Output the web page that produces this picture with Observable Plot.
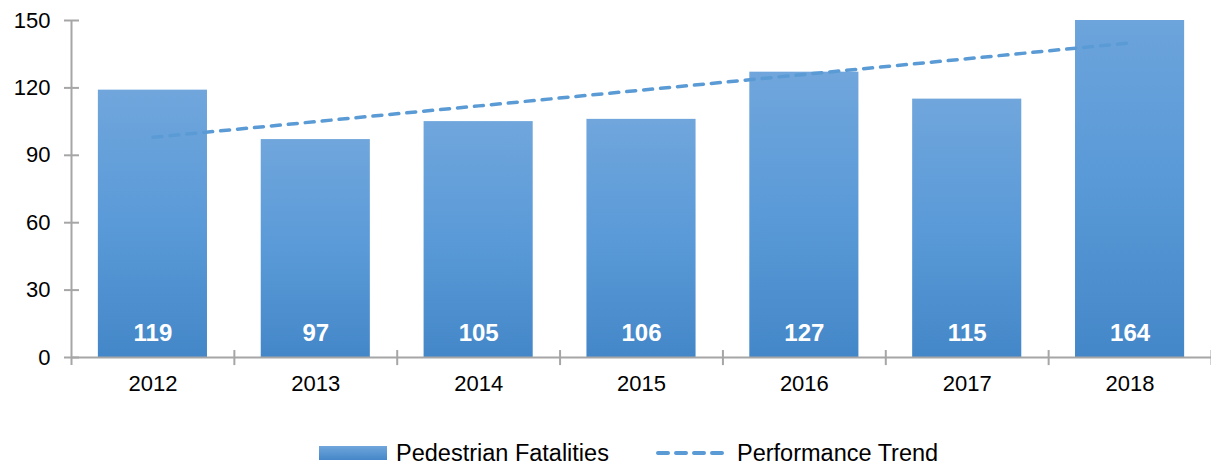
<!DOCTYPE html>
<html>
<head>
<meta charset="utf-8">
<script src="https://cdn.jsdelivr.net/npm/d3@7"></script>
<script src="https://cdn.jsdelivr.net/npm/@observablehq/plot@0.6"></script>
<style>
  body { margin: 0; background: #fff; font-family: "Liberation Sans", Arial, sans-serif; }
  #chart { width: 1211px; height: 420px; }
  #legend { position: relative; width: 1211px; height: 48px; font-size: 23.5px; color: #000; }
  #legend .sw { position: absolute; left: 319px; top: 26px; width: 68px; height: 14px;
    background: linear-gradient(to bottom, #70a6dc, #4487c8); }
  #legend span { position: absolute; top: 20px; line-height: 26px; white-space: nowrap; }
  #legend svg { position: absolute; left: 654px; top: 27px; }
</style>
</head>
<body>
<div id="chart"></div>
<div id="legend">
  <div class="sw"></div>
  <span style="left:396px">Pedestrian Fatalities</span>
  <svg width="80" height="12"><line x1="4" y1="6" x2="74" y2="6" stroke="#5b9bd5" stroke-width="4" stroke-linecap="round" stroke-dasharray="10,8"/></svg>
  <span style="left:737px">Performance Trend</span>
</div>
<script>
const years = ["2012", "2013", "2014", "2015", "2016", "2017", "2018"];
const fatalities = [119, 97, 105, 106, 127, 115, 164];
const trend = [98, 105, 112, 119, 126, 133, 140];
const yTicks = [0, 30, 60, 90, 120, 150];

const data = years.map((year, i) => ({year, value: fatalities[i], trend: trend[i]}));

const W = 1211, H = 420, ml = 71, mr = 0, mt = 20, mb = 63;
const step = (W - ml - mr) / years.length;
const axisColor = "#a6a6a6";

const plot = Plot.plot({
  width: W,
  height: H,
  marginLeft: ml,
  marginRight: mr,
  marginTop: mt,
  marginBottom: mb,
  style: {fontFamily: "'Liberation Sans', Arial, sans-serif", fontSize: "22px", color: "#000", background: "#fff", overflow: "visible"},
  x: {domain: years, paddingInner: 0.33, paddingOuter: 0.165, round: false, label: null},
  y: {domain: [0, 150], label: null},
  marks: [
    Plot.barY(data, {x: "year", y: "value", fill: "url(#barGrad)", clip: true}),
    Plot.line(data, {x: "year", y: "trend", stroke: "#5b9bd5", strokeWidth: 3.5, strokeLinecap: "round", strokeDasharray: "9,8"}),
    Plot.text(data, {x: "year", y: 0, text: d => String(d.value), dy: -24, fill: "white", fontWeight: "bold", fontSize: 24}),
    // axis lines
    Plot.ruleY([0], {stroke: axisColor, strokeWidth: 2}),
    Plot.ruleX([years[0]], {x: d => d, y1: 150, y2: -3.6, dx: -step / 2, stroke: axisColor, strokeWidth: 2}),
    // category boundary ticks
    Plot.ruleX(years, {x: d => d, y1: 3.1, y2: -3.6, dx: step / 2, stroke: axisColor, strokeWidth: 2}),
    // y ticks (crossing)
    Plot.axisY({ticks: yTicks, tickSize: 15, dx: 8, tickFormat: () => "", stroke: axisColor, strokeWidth: 2}),
    Plot.axisY({ticks: yTicks, tickSize: 0, tickPadding: 21, fill: "#000"}),
    Plot.axisX({tickSize: 0, tickPadding: 18, fill: "#000"})
  ]
});

const ns = "http://www.w3.org/2000/svg";
const defs = document.createElementNS(ns, "defs");
defs.innerHTML = `<linearGradient id="barGrad" x1="0" y1="0" x2="0" y2="1">
  <stop offset="0" stop-color="#70a6dc"/>
  <stop offset="0.5" stop-color="#5a9ad8"/>
  <stop offset="1" stop-color="#4487c8"/>
</linearGradient>`;
plot.insertBefore(defs, plot.firstChild);
document.getElementById("chart").appendChild(plot);
</script>
</body>
</html>
